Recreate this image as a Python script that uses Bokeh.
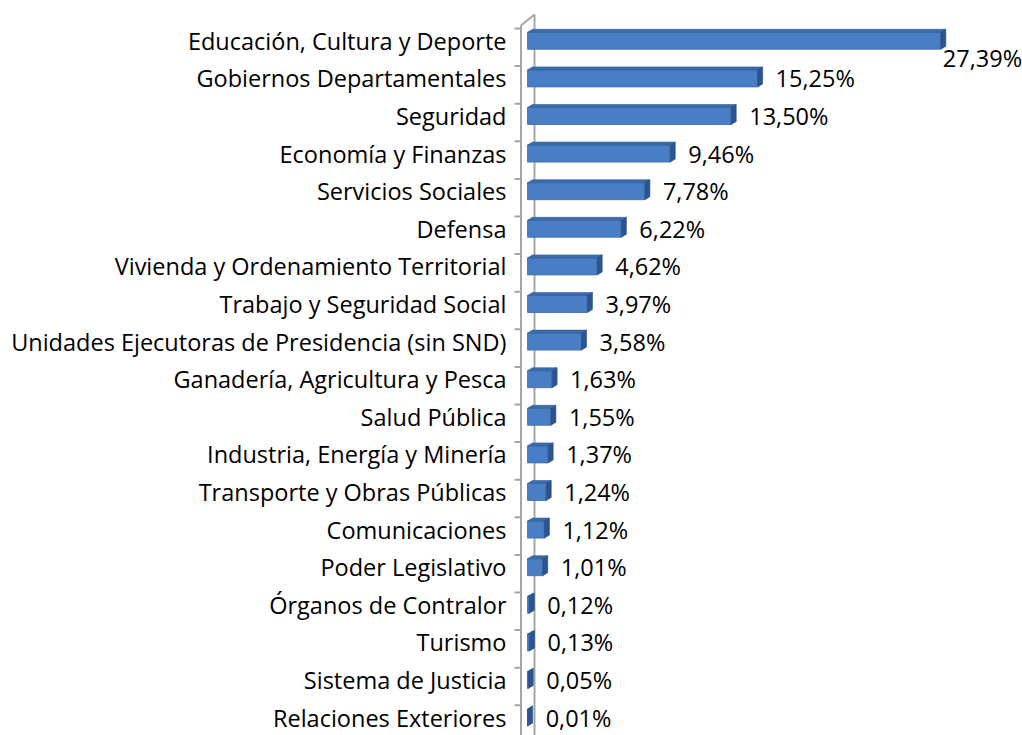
from bokeh.plotting import figure
from bokeh.models import Range1d, FixedTicker, ColumnDataSource
from bokeh.embed import file_html
from bokeh.resources import INLINE
from bokeh.core.properties import value

categories = [
    "Educación, Cultura y Deporte",
    "Gobiernos Departamentales",
    "Seguridad",
    "Economía y Finanzas",
    "Servicios Sociales",
    "Defensa",
    "Vivienda y Ordenamiento Territorial",
    "Trabajo y Seguridad Social",
    "Unidades Ejecutoras de Presidencia (sin SND)",
    "Ganadería, Agricultura y Pesca",
    "Salud Pública",
    "Industria, Energía y Minería",
    "Transporte y Obras Públicas",
    "Comunicaciones",
    "Poder Legislativo",
    "Órganos de Contralor",
    "Turismo",
    "Sistema de Justicia",
    "Relaciones Exteriores",
]
shares = [27.39, 15.25, 13.50, 9.46, 7.78, 6.22, 4.62, 3.97, 3.58, 1.63,
          1.55, 1.37, 1.24, 1.12, 1.01, 0.12, 0.13, 0.05, 0.01]

n = len(categories)
labels = [f"{v:.2f}".replace(".", ",") + "%" for v in shares]

# layout (pixels)
W, H = 1022, 735
PX = 15.09          # px per percent
ROW = 37.6          # px per category row
ZERO = 527          # canvas x of value 0
ROW0 = 40.3         # canvas y of first row centre
FRAME_LEFT = 513

x_start = (FRAME_LEFT - ZERO) / PX
x_end = (W - ZERO) / PX
y_top = -ROW0 / ROW
y_bot = (H - ROW0) / ROW

FONT = "Open Sans"
FS = 23.5
FSIZE = f"{FS}px"

p = figure(width=W, height=H, x_range=Range1d(x_start, x_end),
           y_range=Range1d(y_bot, y_top), output_backend="svg",
           toolbar_location=None, x_axis_location=None,
           min_border_left=FRAME_LEFT, min_border_right=0,
           min_border_top=0, min_border_bottom=0)
p.outline_line_color = None
p.xgrid.visible = False
p.ygrid.visible = False
p.background_fill_color = "white"
p.border_fill_color = "white"

ax = p.yaxis[0]
ax.ticker = FixedTicker(ticks=list(range(n)))
ax.major_label_overrides = {i: c for i, c in enumerate(categories)}
ax.axis_line_color = None
ax.major_tick_line_color = None
ax.minor_tick_line_color = None
ax.major_tick_in = 0
ax.major_tick_out = 0
ax.major_label_standoff = 7
ax.major_label_text_font = FONT
ax.major_label_text_font_size = FSIZE
ax.major_label_text_color = "#000000"

# 3D wall (decoration derived from pixel geometry)
wall_color = "#A6A6A6"
front_x = (520.5 - ZERO) / PX
back_x = (534 - ZERO) / PX
front_top = (25 - ROW0) / ROW
back_top = (14 - ROW0) / ROW
p.line([front_x, front_x], [front_top, y_bot + 1], line_color=wall_color, line_width=2)
p.line([front_x, back_x, back_x], [front_top, back_top, y_bot + 1], line_color=wall_color, line_width=2)
tick_x0 = (514 - ZERO) / PX
tick_off = 12.3 / ROW
p.segment(x0=[tick_x0] * (n + 1), x1=[front_x] * (n + 1),
          y0=[k - tick_off for k in range(n + 1)], y1=[k - tick_off for k in range(n + 1)],
          line_color=wall_color, line_width=2)

# bars
half = 8.5 / ROW
dx = 5 / PX
dy = 3 / ROW
ys = list(range(n))
src = ColumnDataSource(dict(y=ys, v=shares, top=[i - half for i in ys],
                            bottom=[i + half for i in ys]))
top_xs, top_ys, side_xs, side_ys = [], [], [], []
for i, v in enumerate(shares):
    yt, yb = i - half, i + half
    top_xs.append([0, v, v + dx, dx])
    top_ys.append([yt, yt, yt - dy, yt - dy])
    side_xs.append([v, v + dx, v + dx, v])
    side_ys.append([yt, yt - dy, yb - dy, yb])

p.quad(left=0, right="v", top="top", bottom="bottom", source=src,
       fill_color="#4A7EC4", line_color="#3C6CAA", line_width=0.8)
p.patches(top_xs, top_ys, fill_color="#3B6BAA", line_color="#335F99", line_width=0.6)
p.patches(side_xs, side_ys, fill_color="#2B5490", line_color="#264B82", line_width=0.6)

# data labels
lx, ly = [], []
for i, (v, t) in enumerate(zip(shares, labels)):
    x = v + dx + 13 / PX
    est = len(t) * 0.58 * FS / PX
    if x + est > x_end:
        lx.append(v + 2 / PX)
        ly.append(i + 17 / ROW)
    else:
        lx.append(x)
        ly.append(i)
p.text(x=lx, y=ly, text=labels, text_font=value(FONT), text_font_size=FSIZE,
       text_color="#000000", text_align="left", text_baseline="middle")

open("out.html", "w").write(file_html(p, INLINE))
